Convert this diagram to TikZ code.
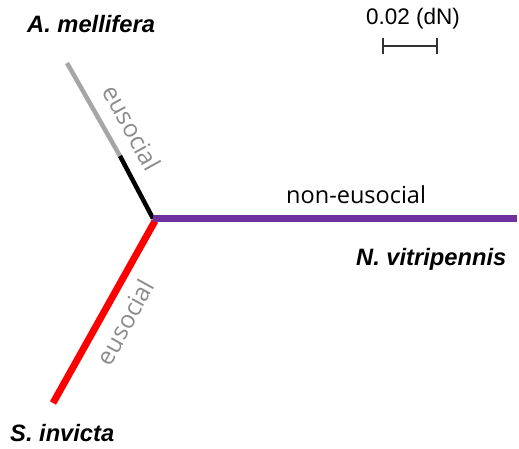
\documentclass[tikz,border=0pt]{standalone}
\usepackage{fontspec}
\setmainfont{Liberation Sans}
\newfontfamily\labelfont{Open Sans}
\definecolor{branchpurple}{HTML}{7030A0}
\definecolor{branchgray}{HTML}{A6A6A6}
\definecolor{labelgray}{HTML}{8C8C8C}
\definecolor{barcolor}{HTML}{333333}
\tikzset{
  species/.style={font=\fontsize{23.7}{28}\selectfont\bfseries\itshape, inner sep=0pt},
  traitlabel/.style={font=\labelfont\fontsize{23.5}{28}\selectfont, inner sep=0pt},
  branch/.style={line width=#1, line cap=butt},
}
\begin{document}
\begin{tikzpicture}[x=1pt, y=-1pt]
  \useasboundingbox (0,0) rectangle (519,448);
  % branch points
  \coordinate (root) at (153,218.5);
  \coordinate (amel) at (67,63);
  \coordinate (split) at (120,156);
  \coordinate (nvit) at (517,218.5);
  \coordinate (sinv) at (53,403);
  \coordinate (rootr) at (155,221);
  % branches
  \draw[branch=4.5pt, branchgray] (amel) -- (split);
  \draw[branch=4.5pt, black] (split) -- (root);
  \draw[branch=7pt, red] (rootr) -- (sinv);
  \draw[branch=7pt, branchpurple] (root) -- (nvit);
  % branch labels
  \node[traitlabel, text=labelgray, rotate=-61, font=\labelfont\fontsize{24.5}{28}\selectfont] (eusA) at (132,128) {eusocial};
  \node[traitlabel, text=labelgray, rotate=61, font=\labelfont\fontsize{24.5}{28}\selectfont] (eusS) at (125,322) {eusocial};
  \node[traitlabel, anchor=base west] (noneus) at (286,203) {non-eusocial};
  % species names
  \node[species, anchor=base west] (nameA) at (27,32) {A. mellifera};
  \node[species, anchor=base west] (nameS) at (10,441) {S. invicta};
  \node[species, anchor=base west] (nameN) at (356,265) {N. vitripennis};
  % scale bar
  \coordinate (barL) at (383,46);
  \coordinate (barR) at (437,46);
  \draw[barcolor, line width=2pt] (barL) -- (barR);
  \draw[barcolor, line width=2pt] ([yshift=-8pt]barL) -- ([yshift=8pt]barL);
  \draw[barcolor, line width=2pt] ([yshift=-8pt]barR) -- ([yshift=8pt]barR);
  \node[font=\fontsize{22.5}{26}\selectfont, inner sep=0pt, anchor=base west] (scale) at (366,24) {0.02 (dN)};
\end{tikzpicture}
\end{document}
